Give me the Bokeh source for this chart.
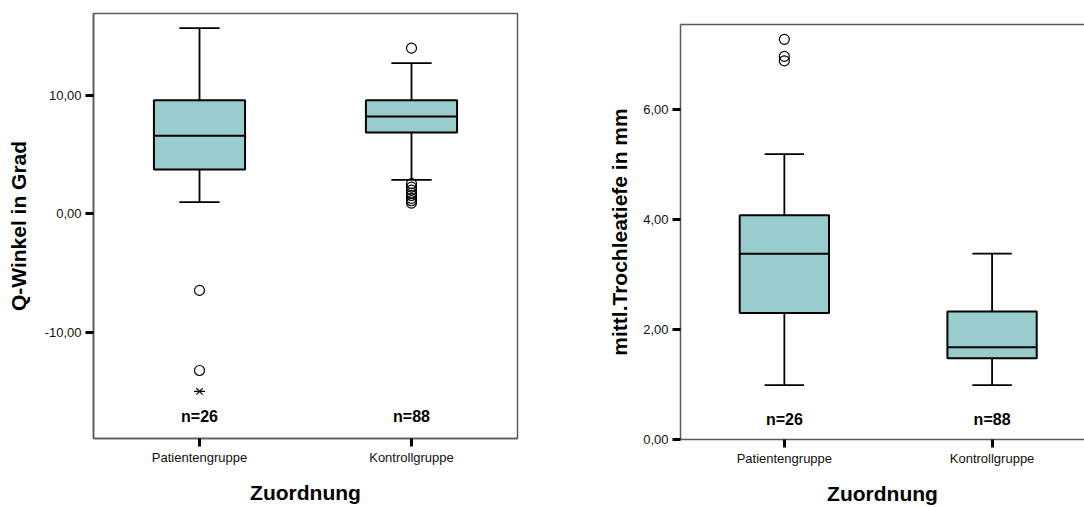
from bokeh.plotting import figure
from bokeh.layouts import row
from bokeh.models import Range1d, FixedTicker, CustomJSTickFormatter, LinearAxis
from bokeh.core.properties import value
from bokeh.embed import file_html
from bokeh.resources import INLINE

# ---------------- data ----------------
groups = ["Patientengruppe", "Kontrollgruppe"]
n_counts = [26, 88]

# Q-Winkel in Grad
q_lower_whisker = [0.98, 2.87]
q_q1 = [3.74, 6.87]
q_median = [6.59, 8.22]
q_q3 = [9.60, 9.60]
q_upper_whisker = [15.69, 12.74]
q_outliers_patient = [-6.48, -13.25]
q_extremes_patient = [-15.02]
q_outliers_control = [14.0, 2.55, 2.25, 2.0, 1.75, 1.55, 1.3, 1.1, 0.9]
q_ticks = [-10, 0, 10]

# mittl. Trochleatiefe in mm
t_lower_whisker = [0.99, 0.99]
t_q1 = [2.30, 1.48]
t_median = [3.38, 1.68]
t_q3 = [4.08, 2.33]
t_upper_whisker = [5.19, 3.38]
t_outliers_patient = [7.28, 6.97, 6.89]
t_outliers_control = []
t_ticks = [0, 2, 4, 6]

# ---------------- styling ----------------
FONT = "Liberation Sans"
BOX_FILL = "#99CCCC"
FRAME = "#5a5a5a"
BOX_W = 0.43
CAP_W = 0.19

num_fmt = CustomJSTickFormatter(code="return tick.toFixed(2).replace('.', ',');")
cat_fmt = CustomJSTickFormatter(args=dict(labels=groups),
                                code="return labels[Math.round(tick - 0.5)] || '';")


def style_axes(p, ylabel, y_ticks, ylab_standoff):
    p.xaxis.ticker = FixedTicker(ticks=[0.5, 1.5])
    p.xaxis.formatter = cat_fmt
    p.yaxis.ticker = FixedTicker(ticks=y_ticks)
    p.yaxis.formatter = num_fmt
    for ax in (p.xaxis[0], p.yaxis[0]):
        ax.axis_line_color = FRAME
        ax.axis_line_width = 1.5
        ax.major_tick_line_color = "black"
        ax.major_tick_line_width = 3
        ax.major_tick_out = 8
        ax.major_tick_in = 0
        ax.minor_tick_line_color = None
        ax.major_label_text_font = FONT
        ax.major_label_text_font_size = "13px"
        ax.major_label_text_color = "#111111"
        ax.axis_label_text_font = FONT
        ax.axis_label_text_font_size = "21px"
        ax.axis_label_text_font_style = "bold"
        ax.axis_label_text_color = "black"
        ax.major_label_standoff = 4
    p.xaxis.major_label_standoff = 3
    p.xaxis.axis_label = "Zuordnung"
    p.xaxis.axis_label_standoff = 13
    p.yaxis.axis_label = ylabel
    p.yaxis.axis_label_standoff = ylab_standoff
    p.xgrid.grid_line_color = None
    p.ygrid.grid_line_color = None


def draw_boxes(p, lw, q1, med, q3, uw, n_y):
    xs = [0.5 + i for i in range(len(groups))]
    p.segment(x0=xs, y0=q3, x1=xs, y1=uw, line_color="black", line_width=1.8)
    p.segment(x0=xs, y0=q1, x1=xs, y1=lw, line_color="black", line_width=1.8)
    p.segment(x0=[x - CAP_W / 2 for x in xs], y0=uw, x1=[x + CAP_W / 2 for x in xs], y1=uw,
              line_color="black", line_width=1.8)
    p.segment(x0=[x - CAP_W / 2 for x in xs], y0=lw, x1=[x + CAP_W / 2 for x in xs], y1=lw,
              line_color="black", line_width=1.8)
    p.vbar(x=xs, bottom=q1, top=q3, width=BOX_W, fill_color=BOX_FILL,
           line_color="black", line_width=2)
    p.segment(x0=[x - BOX_W / 2 for x in xs], y0=med, x1=[x + BOX_W / 2 for x in xs], y1=med,
              line_color="black", line_width=2)
    p.text(x=xs, y=[n_y] * len(xs), text=["n=%d" % n for n in n_counts],
           text_font=value(FONT), text_font_style="bold", text_font_size="16px",
           text_align="center", text_baseline="middle", text_color="black")


def draw_outliers(p, x, vals):
    if vals:
        p.scatter(x=[x] * len(vals), y=vals, marker="circle", size=10,
                  fill_color="white", fill_alpha=0, line_color="black", line_width=1.2)


# ---------------- left chart ----------------
p1 = figure(width=560, height=507, output_backend="svg", toolbar_location=None, title=None,
            x_range=Range1d(0, 2), y_range=Range1d(-19.0, 16.93),
            min_border_left=93, min_border_right=43, min_border_top=13, min_border_bottom=69)
p1.frame_align = False
p1.outline_line_color = FRAME
p1.outline_line_width = 1.5
style_axes(p1, "Q-Winkel in Grad", q_ticks, 12)
draw_boxes(p1, q_lower_whisker, q_q1, q_median, q_q3, q_upper_whisker, -17.1)
draw_outliers(p1, 0.5, q_outliers_patient)
draw_outliers(p1, 1.5, q_outliers_control)
p1.scatter(x=[0.5] * len(q_extremes_patient), y=q_extremes_patient, marker="x", size=9,
           line_color="black", line_width=1.2)
p1.scatter(x=[0.5] * len(q_extremes_patient), y=q_extremes_patient, marker="dash", size=11,
           line_color="black", line_width=1.2)

# ---------------- right chart ----------------
p2 = figure(width=524, height=507, output_backend="svg", toolbar_location=None, title=None,
            x_range=Range1d(0, 1.945), y_range=Range1d(0, 7.55),
            min_border_left=120, min_border_right=0, min_border_top=24, min_border_bottom=68)
p2.frame_align = False
p2.outline_line_color = None
style_axes(p2, "mittl.Trochleatiefe in mm", t_ticks, 9)
top_axis = LinearAxis(ticker=FixedTicker(ticks=[]), axis_line_color=FRAME, axis_line_width=1.5,
                      major_tick_line_color=None, minor_tick_line_color=None,
                      major_label_text_font_size="0px")
p2.add_layout(top_axis, "above")
draw_boxes(p2, t_lower_whisker, t_q1, t_median, t_q3, t_upper_whisker, 0.37)
draw_outliers(p2, 0.5, t_outliers_patient)
draw_outliers(p2, 1.5, t_outliers_control)

layout = row(p1, p2)
open("out.html", "w").write(file_html(layout, INLINE))
